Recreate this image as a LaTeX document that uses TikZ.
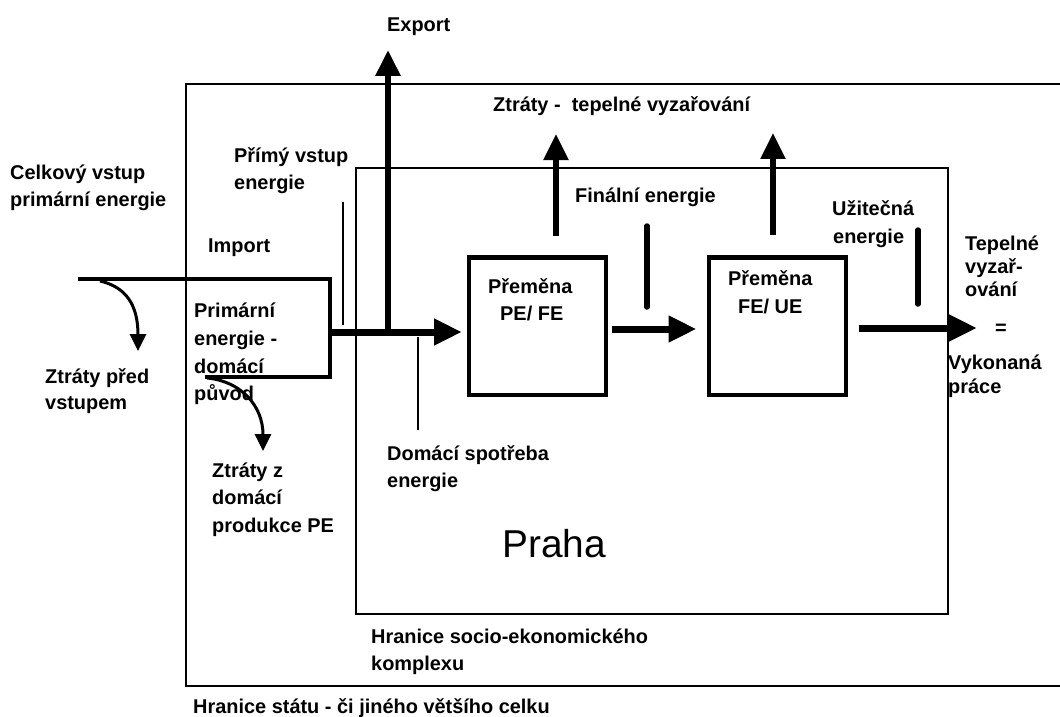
\documentclass[tikz,border=0pt]{standalone}
\usepackage{fontspec}
\setmainfont{Liberation Sans}
\usetikzlibrary{arrows.meta}
\newcommand{\lblfont}{\bfseries\fontsize{20}{27}\selectfont}
\begin{document}
\begin{tikzpicture}[x=1bp,y=-1bp,
  lab/.style={anchor=base west, inner sep=0pt, font=\lblfont},
  frame/.style={line width=1.6bp},
  pbox/.style={draw, line width=4bp, minimum width=137bp, minimum height=137bp, inner sep=0pt},
  flow/.style={line width=7bp, -{Triangle[length=28bp,width=25bp]}},
  uparrow/.style={line width=5.5bp, -{Triangle[length=26bp,width=24bp]}},
  loss/.style={line width=3bp, -{Triangle[length=17bp,width=16bp]}},
  bar/.style={line width=5.5bp, line cap=round},
  tickline/.style={line width=1.6bp}]
\useasboundingbox (0,0) rectangle (1060,717);

% frames
\draw[frame] (1062,84) -| (186,686) -- (1062,686);
\draw[frame] (356,168) rectangle (948,614);

% process boxes
\node[pbox] (b1) at (537.5,326) {};
\node[pbox] (b2) at (777,326) {};

% coordinates
\coordinate (imp0) at (78,279);
\coordinate (br1) at (330,279);
\coordinate (br2) at (330,377);
\coordinate (br3) at (205,377);
\coordinate (fstart) at (328,332);
\coordinate (exbase) at (388,335);
\coordinate (extip) at (388,50);
\coordinate (y2) at (0,329);
\coordinate (y3) at (0,328);
\coordinate (outtip) at (977,328);
\coordinate (u1a) at (556,236);
\coordinate (u1b) at (556,134);
\coordinate (u2a) at (773,235);
\coordinate (u2b) at (773,133);
\coordinate (l1a) at (100,281);
\coordinate (l1b) at (138,351);
\coordinate (l2a) at (207,378);
\coordinate (l2b) at (263,451);
\coordinate (pv1) at (343,202);
\coordinate (pv2) at (343,325);
\coordinate (ds1) at (418,337);
\coordinate (ds2) at (418,430);
\coordinate (fb1) at (647,226);
\coordinate (fb2) at (647,307);
\coordinate (ub1) at (918,230);
\coordinate (ub2) at (918,304);

% import bracket and flows
\draw[line width=4.5bp] (imp0) -- (br1) -- (br2) -- (br3);
\draw[flow] (fstart) -- ([xshift=-5bp]b1.west |- fstart);
\draw[uparrow, line width=6bp] (exbase) -- (extip);
\draw[flow] ([xshift=4bp]b1.east |- y2) -- ([xshift=-10bp]b2.west |- y2);
\draw[flow] ([xshift=11bp]b2.east |- y3) -- (outtip);
\draw[uparrow] (u1a) -- (u1b);
\draw[uparrow] (u2a) -- (u2b);

% losses
\draw[loss] (l1a) .. controls (126,287) and (138,305) .. (l1b);
\draw[loss] (l2a) .. controls (240,381) and (263,405) .. (l2b);

% thin marker lines and bars
\draw[tickline, line width=2.2bp] (pv1) -- (pv2);
\draw[tickline] (ds1) -- (ds2);
\draw[bar] (fb1) -- (fb2);
\draw[bar] (ub1) -- (ub2);

% labels
\node[lab] (tExport) at (387,32) {Export};
\node[lab] (tZtr) at (493,112) {Ztráty -\ \ tepelné vyzařování};
\node[lab] (tCel1) at (10,180) {Celkový vstup};
\node[lab] (tCel2) at (10,207) {primární energie};
\node[lab] (tPri1) at (234,163) {Přímý vstup};
\node[lab] (tPri2) at (234,190) {energie};
\node[lab] (tImp) at (208,252) {Import};
\node[lab] (tPE1) at (194,317) {Primární};
\node[lab] (tPE2) at (194,345) {energie -};
\node[lab] (tPE3) at (194,373) {domácí};
\node[lab] (tPE4) at (194,400) {původ};
\node[lab] (tZpv1) at (45,383) {Ztráty před};
\node[lab] (tZpv2) at (45,409) {vstupem};
\node[lab] (tZd1) at (212,477) {Ztráty z};
\node[lab] (tZd2) at (212,504) {domácí};
\node[lab] (tZd3) at (212,532) {produkce PE};
\node[lab] (tDs1) at (387,460) {Domácí spotřeba};
\node[lab] (tDs2) at (387,487) {energie};
\node[anchor=base west, inner sep=0pt, font=\fontsize{39}{40}\selectfont] (tPraha) at (502,557) {Praha};
\node[lab] (tHs1) at (371,643) {Hranice socio-ekonomického};
\node[lab] (tHs2) at (371,670) {komplexu};
\node[lab] (tHst) at (193,713) {Hranice státu - či jiného většího celku};
\node[lab] (tFin) at (575,203) {Finální energie};
\node[lab] (tUz1) at (832,215) {Užitečná};
\node[lab] (tUz2) at (833,243) {energie};
\node[lab] (tB1a) at (488,293) {Přeměna};
\node[lab] (tB1b) at (500,320) {PE/ FE};
\node[lab] (tB2a) at (728,285) {Přeměna};
\node[lab] (tB2b) at (738,313) {FE/ UE};
\node[lab] (tTep1) at (965,250) {Tepelné};
\node[lab] (tTep2) at (965,273) {vyzař-};
\node[lab] (tTep3) at (965,296) {ování};
\node[lab] (tEq) at (995,334) {=};
\node[lab] (tVyk1) at (948,369) {Vykonaná};
\node[lab] (tVyk2) at (948,393) {práce};
\end{tikzpicture}
\end{document}
